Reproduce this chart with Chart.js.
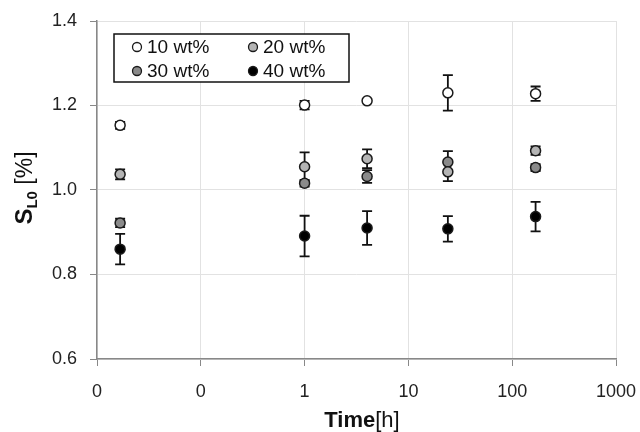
<!DOCTYPE html>
<html>
<head>
<meta charset="utf-8">
<script src="https://cdn.jsdelivr.net/npm/chart.js@4/dist/chart.umd.min.js"></script>
<style>
  html, body { margin:0; padding:0; background:#fff; }
  #wrap { width:640px; height:432px; }
</style>
</head>
<body>
<div id="wrap"><canvas id="chart" width="640" height="432"></canvas></div>
<script>
// storage time in hours (first point = 1 min)
const times = [0.0167, 1, 4, 24, 168];
const seriesNames = ['10 wt%', '20 wt%', '30 wt%', '40 wt%'];
const s10 = [1.153, 1.201, 1.211, 1.230, 1.228];
const s10Err = [0.008, 0.010, 0.000, 0.042, 0.017];
const s20 = [1.037, 1.055, 1.074, 1.043, 1.093];
const s20Err = [0.012, 0.034, 0.022, 0.022, 0.010];
const s30 = [0.922, 1.016, 1.032, 1.066, 1.053];
const s30Err = [0.010, 0.008, 0.015, 0.026, 0.008];
const s40 = [0.860, 0.891, 0.910, 0.908, 0.937];
const s40Err = [0.036, 0.048, 0.040, 0.030, 0.035];
const xTickVals = [0.01, 0.1, 1, 10, 100, 1000];
const xTickLabels = ['0', '0', '1', '10', '100', '1000'];
const yTicks = [0.6, 0.8, 1.0, 1.2, 1.4];

const FONT = "'Liberation Sans', Arial, sans-serif";
const fills = ['#ffffff', '#b4b4b4', '#8a8a8a', '#000000'];
const values = [s10, s20, s30, s40];
const errors = [s10Err, s20Err, s30Err, s40Err];

const datasets = seriesNames.map((name, i) => ({
  label: name,
  data: times.map((t, j) => ({ x: t, y: values[i][j] })),
  err: errors[i],
  backgroundColor: fills[i],
  borderColor: '#1a1a1a',
  borderWidth: 1.5,
  pointRadius: 5,
  pointHoverRadius: 5,
  showLine: false
}));

// vertical error bars with caps, drawn under the markers
const errorBars = {
  id: 'errorBars',
  beforeDatasetsDraw(chart) {
    const { ctx, scales: { x, y } } = chart;
    ctx.save();
    ctx.strokeStyle = '#111';
    ctx.lineWidth = 1.8;
    chart.data.datasets.forEach(ds => {
      ds.data.forEach((p, j) => {
        const e = ds.err[j];
        if (!e) return;
        const px = x.getPixelForValue(p.x);
        const top = y.getPixelForValue(p.y + e);
        const bot = y.getPixelForValue(p.y - e);
        ctx.beginPath();
        ctx.moveTo(px, top); ctx.lineTo(px, bot);
        ctx.moveTo(px - 5, top); ctx.lineTo(px + 5, top);
        ctx.moveTo(px - 5, bot); ctx.lineTo(px + 5, bot);
        ctx.stroke();
      });
    });
    ctx.restore();
  }
};

// boxed legend inside the plot plus the two axis titles
const decorations = {
  id: 'decorations',
  afterDraw(chart) {
    const { ctx } = chart;
    ctx.save();
    // legend box
    ctx.fillStyle = '#fff';
    ctx.fillRect(114, 34, 235, 48);
    ctx.strokeStyle = '#111';
    ctx.lineWidth = 1.5;
    ctx.strokeRect(114, 34, 235, 48);
    const cols = [137, 253], rows = [47, 71];
    chart.data.datasets.forEach((ds, i) => {
      const cx = cols[i % 2], cy = rows[Math.floor(i / 2)];
      ctx.beginPath();
      ctx.arc(cx, cy, 4.5, 0, Math.PI * 2);
      ctx.fillStyle = ds.backgroundColor;
      ctx.fill();
      ctx.lineWidth = 1.3;
      ctx.strokeStyle = '#1a1a1a';
      ctx.stroke();
      ctx.fillStyle = '#111';
      ctx.font = '19px ' + FONT;
      ctx.textAlign = 'left';
      ctx.textBaseline = 'middle';
      ctx.fillText(ds.label, cx + 10, cy + 1);
    });

    // x title: bold "Time" + "[h]"
    ctx.fillStyle = '#111';
    ctx.textBaseline = 'alphabetic';
    ctx.font = 'bold 22px ' + FONT;
    const w1 = ctx.measureText('Time').width;
    ctx.font = '22px ' + FONT;
    const w2 = ctx.measureText('[h]').width;
    let sx = 362 - (w1 + w2) / 2;
    ctx.font = 'bold 22px ' + FONT;
    ctx.textAlign = 'left';
    ctx.fillText('Time', sx, 427);
    ctx.font = '22px ' + FONT;
    ctx.fillText('[h]', sx + w1, 427);

    // y title: S_L0 [%], rotated
    ctx.translate(32, 188);
    ctx.rotate(-Math.PI / 2);
    ctx.font = 'bold 24px ' + FONT;
    const a = ctx.measureText('S').width;
    ctx.font = 'bold 15px ' + FONT;
    const b = ctx.measureText('L0').width;
    ctx.font = '23px ' + FONT;
    const c = ctx.measureText(' [%]').width;
    let tx = -(a + b + c) / 2;
    ctx.font = 'bold 24px ' + FONT;
    ctx.fillText('S', tx, 0);
    ctx.font = 'bold 15px ' + FONT;
    ctx.fillText('L0', tx + a, 5);
    ctx.font = '23px ' + FONT;
    ctx.fillText(' [%]', tx + a + b, 0);
    ctx.restore();
  }
};

new Chart(document.getElementById('chart'), {
  type: 'scatter',
  data: { datasets },
  plugins: [errorBars, decorations],
  options: {
    responsive: false,
    animation: false,
    layout: { padding: { top: 21, right: 24, left: 0, bottom: 0 } },
    plugins: { legend: { display: false }, tooltip: { enabled: false } },
    scales: {
      x: {
        type: 'logarithmic',
        min: 0.01,
        max: 1000,
        afterBuildTicks: s => { s.ticks = xTickVals.map(v => ({ value: v })); },
        afterFit: s => { s.height = 73; s.paddingLeft = 0; s.paddingRight = 0; },
        ticks: {
          callback: (v, i) => xTickLabels[i],
          color: '#222',
          font: { size: 18, family: FONT },
          padding: 15,
          maxRotation: 0,
          autoSkip: false
        },
        grid: { color: '#e2e2e2', tickColor: '#888', tickLength: 7, lineWidth: 1 },
        border: { color: '#888', width: 1.5 }
      },
      y: {
        min: 0.6,
        max: 1.4,
        afterBuildTicks: s => { s.ticks = yTicks.map(v => ({ value: v })); },
        afterFit: s => { s.width = 97; s.paddingTop = 0; s.paddingBottom = 0; },
        ticks: {
          callback: v => v.toFixed(1),
          color: '#222',
          font: { size: 18, family: FONT },
          padding: 13
        },
        grid: { color: '#e2e2e2', tickColor: '#888', tickLength: 7, lineWidth: 1 },
        border: { color: '#888', width: 1.5 }
      }
    }
  }
});
</script>
</body>
</html>
